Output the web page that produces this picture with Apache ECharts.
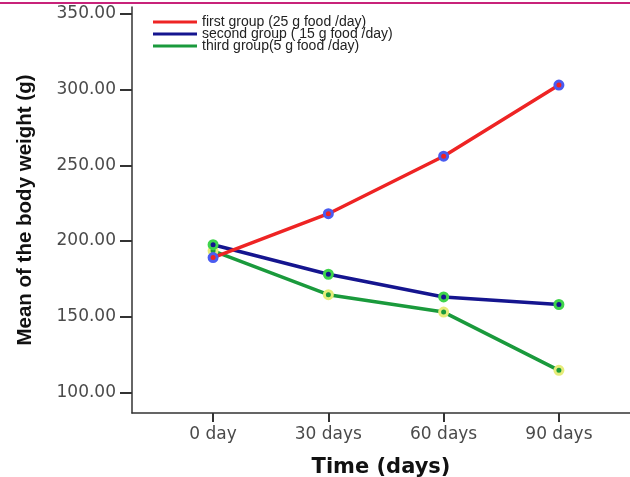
<!DOCTYPE html>
<html>
<head>
<meta charset="utf-8">
<script src="https://cdn.jsdelivr.net/npm/echarts@6/dist/echarts.min.js"></script>
<style>html,body{margin:0;padding:0;background:#fff}#c{width:630px;height:477px}</style>
</head>
<body>
<div id="c"></div>
<script>
var dayValues = [0, 30, 60, 90];
var dayLabels = ['0 day', '30 days', '60 days', '90 days'];
var yTicks = [100, 150, 200, 250, 300, 350];
var seriesNames = ['first group (25 g food /day)', 'second group ( 15 g food /day)', 'third group(5 g food /day)'];
var firstGroup = [189, 218, 256, 303];
var secondGroup = [197.5, 178, 163, 158];
var thirdGroup = [193.5, 164.5, 153, 114.5];

var lineColors = ['#ee2424', '#15158f', '#1a9a3c'];
var markColors = ['#4a5cf0', '#3fd44c', '#e6ec7a'];

function pairs(vals) { return dayValues.map(function (d, i) { return [d, vals[i]]; }); }
var allVals = [firstGroup, secondGroup, thirdGroup];

var chart = echarts.init(document.getElementById('c'));
chart.setOption({
  animation: false,
  backgroundColor: '#fff',
  graphic: [{ type: 'rect', shape: { x: 0, y: 2, width: 630, height: 2 }, style: { fill: '#c8237a' } }],
  grid: { left: 132, right: 0, top: 7, bottom: 64, containLabel: false, outerBoundsMode: 'none' },
  legend: {
    orient: 'vertical', left: 153, top: 15, itemGap: -2, padding: 0,
    itemWidth: 44, itemHeight: 3, icon: 'rect',
    itemStyle: { borderWidth: 0 },
    textStyle: { fontFamily: 'Liberation Sans', fontSize: 14, color: '#222' },
    data: seriesNames
  },
  xAxis: {
    type: 'value', min: -21.1, max: 108.5,
    splitLine: { show: false },
    axisLine: { onZero: false, lineStyle: { color: '#333', width: 1.5 } },
    axisTick: { customValues: dayValues, length: 9, lineStyle: { color: '#333', width: 2 } },
    axisLabel: {
      customValues: dayValues, margin: 13,
      formatter: function (v) { return dayLabels[dayValues.indexOf(v)]; },
      fontFamily: 'DejaVu Sans', fontSize: 17, color: '#4a4a4a'
    },
    name: 'Time (days)', nameLocation: 'middle', nameGap: 44,
    nameTextStyle: { fontFamily: 'DejaVu Sans', fontWeight: 'bold', fontSize: 21, color: '#111' }
  },
  yAxis: {
    type: 'value', min: 86.3, max: 354.6,
    splitLine: { show: false },
    axisLine: { show: true, onZero: false, lineStyle: { color: '#333', width: 1.5 } },
    axisTick: { show: true, customValues: yTicks, length: 12, lineStyle: { color: '#333', width: 2 } },
    axisLabel: {
      customValues: yTicks, margin: 16,
      formatter: function (v) { return v.toFixed(2); },
      fontFamily: 'DejaVu Sans', fontSize: 17, color: '#4a4a4a'
    },
    name: 'Mean of the body weight (g)', nameLocation: 'middle', nameGap: 96, nameRotate: 90,
    nameTextStyle: { fontFamily: 'Liberation Sans', fontWeight: 'bold', fontSize: 20.5, color: '#111' }
  },
  series: seriesNames.map(function (n, i) {
    return {
      name: n, type: 'line', data: pairs(allVals[i]),
      symbol: 'circle', symbolSize: 8,
      lineStyle: { color: lineColors[i], width: 3.5 },
      itemStyle: { color: lineColors[i], borderColor: markColors[i], borderWidth: 3 },
      z: 3 - i
    };
  })
});
</script>
</body>
</html>
